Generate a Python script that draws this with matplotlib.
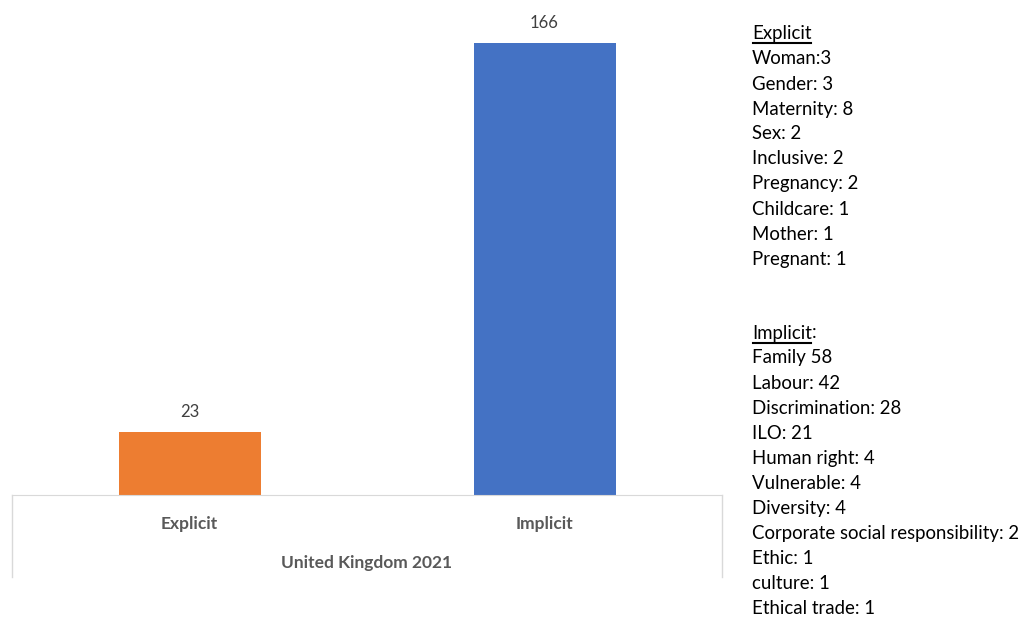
import matplotlib
matplotlib.use("Agg")
import matplotlib.pyplot as plt
from matplotlib.lines import Line2D

plt.rcParams['font.family'] = ['Lato', 'DejaVu Sans']

categories = ['Explicit', 'Implicit']
values = [23, 166]
colors = ['#ED7D31', '#4472C4']
group_label = 'United Kingdom 2021'

explicit_terms = ['Woman:3', 'Gender: 3', 'Maternity: 8', 'Sex: 2', 'Inclusive: 2',
                  'Pregnancy: 2', 'Childcare: 1', 'Mother: 1', 'Pregnant: 1']
implicit_terms = ['Family 58', 'Labour: 42', 'Discrimination: 28', 'ILO: 21',
                  'Human right: 4', 'Vulnerable: 4', 'Diversity: 4',
                  'Corporate social responsibility: 2', 'Ethic: 1', 'culture: 1',
                  'Ethical trade: 1']

W, H = 1028, 620
fig = plt.figure(figsize=(W / 100, H / 100), dpi=100)
ax = fig.add_axes([12 / W, 1 - 495 / H, 710 / W, 490 / H])

x = range(len(categories))
bars = ax.bar(x, values, width=0.40, color=colors)
for b, v in zip(bars, values):
    ax.annotate(str(v), (b.get_x() + b.get_width() / 2, v), xytext=(0, 9),
                textcoords='offset points', ha='center', va='bottom',
                fontsize=12, color='#404040')

ax.set_xlim(-0.5, 1.5)
ax.set_ylim(0, 180)
ax.set_yticks([])
ax.set_xticks([])
for s in ['top', 'left', 'right']:
    ax.spines[s].set_visible(False)
ax.spines['bottom'].set_color('#D9D9D9')

# multi-level category axis box
ybot = (495 - 577) / 490
for xx in [0, 1]:
    ax.add_line(Line2D([xx, xx], [0, ybot], transform=ax.transAxes,
                       color='#D9D9D9', lw=1, clip_on=False))
for i, c in enumerate(categories):
    ax.text((i + 0.5) / 2, (495 - 524) / 490, c, transform=ax.transAxes,
            ha='center', va='center', fontsize=12.5, fontweight='bold', color='#595959')
ax.text(0.5, (495 - 563) / 490, group_label, transform=ax.transAxes,
        ha='center', va='center', fontsize=12.5, fontweight='bold', color='#595959')

# side notes
tx = 752 / W
fs = 13.4


def header(y, label, suffix):
    t = fig.text(tx, 1 - y / H, label, ha='left', va='center', fontsize=fs, color='black')
    fig.canvas.draw()
    bb = t.get_window_extent()
    if suffix:
        fig.text(bb.x1 / W, 1 - y / H, suffix, ha='left', va='center',
                 fontsize=fs, color='black')
    uy = (bb.y0 - 1) / H
    fig.add_artist(Line2D([tx + 1 / W, (bb.x1 - 1) / W], [uy, uy], color='black', lw=1.5))


header(33, 'Explicit', '')
for i, s in enumerate(explicit_terms):
    fig.text(tx, 1 - (59 + i * 25) / H, s, ha='left', va='center', fontsize=fs)

header(333, 'Implicit', ':')
for i, s in enumerate(implicit_terms):
    fig.text(tx, 1 - (358 + i * 25.1) / H, s, ha='left', va='center', fontsize=fs)

fig.savefig('out.png', dpi=100)
